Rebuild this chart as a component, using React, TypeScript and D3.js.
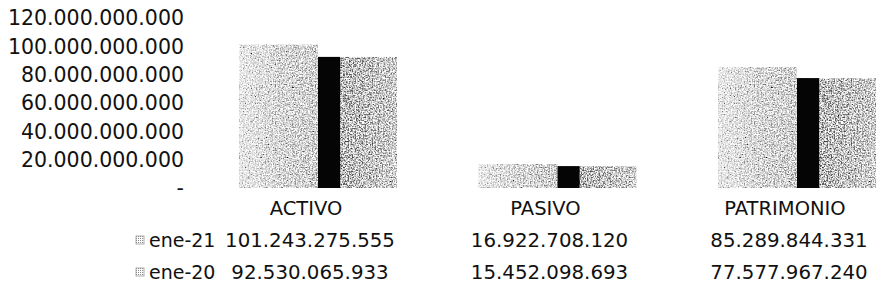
import React from 'react';
import * as d3 from 'd3';

const categories = ['ACTIVO', 'PASIVO', 'PATRIMONIO'];
const seriesNames = ['ene-21', 'ene-20'];
const ene21 = [101243275555, 16922708120, 85289844331];
const ene20 = [92530065933, 15452098693, 77577967240];
const yTicks = [0, 20e9, 40e9, 60e9, 80e9, 100e9, 120e9];

const W = 881;
const H = 296;
const FONT = '"DejaVu Sans", sans-serif';

const locale = d3.formatLocale({ decimal: ',', thousands: '.', grouping: [3], currency: ['', ''] });
const fmt = (v: number) => (v === 0 ? '-' : locale.format(',d')(v));

const App = () => {
  const y = d3.scaleLinear().domain([0, 120e9]).range([188, 18]);
  const x = d3.scalePoint<string>().domain(categories).range([318, 797]);
  const x1 = d3.scaleBand<string>().domain(seriesNames).range([-79, 79]).padding(0);
  const values = [ene21, ene20];
  const rowY = d3.scalePoint<string>().domain(['cat', ...seriesNames]).range([208, 272]);
  const stripW = x1.bandwidth() * 0.28;

  return (
    <svg width={W} height={H} style={{ position: 'absolute', left: 0, top: 0, background: '#fff' }} fontFamily={FONT}>
      <defs>
        <linearGradient id="g21" x1="0" x2="1" y1="0" y2="0">
          <stop offset="0" stopColor="#d0d0d0" />
          <stop offset="0.5" stopColor="#aeaeae" />
          <stop offset="1" stopColor="#9c9c9c" />
        </linearGradient>
        <linearGradient id="g20" x1="0" x2="1" y1="0" y2="0">
          <stop offset="0" stopColor="#4a4a4a" />
          <stop offset="0.5" stopColor="#707070" />
          <stop offset="1" stopColor="#959595" />
        </linearGradient>
        <filter id="grain" x="0" y="0" width="1" height="1">
          <feTurbulence type="fractalNoise" baseFrequency="0.7" numOctaves="2" seed="3" result="noise" />
          <feColorMatrix in="noise" type="matrix"
            values="0.33 0.33 0.33 0 0  0.33 0.33 0.33 0 0  0.33 0.33 0.33 0 0  0 0 0 0 1" result="gray" />
          <feComponentTransfer in="gray" result="contrast">
            <feFuncR type="linear" slope="3" intercept="-0.75" />
            <feFuncG type="linear" slope="3" intercept="-0.75" />
            <feFuncB type="linear" slope="3" intercept="-0.75" />
          </feComponentTransfer>
          <feBlend in="SourceGraphic" in2="contrast" mode="overlay" result="blend" />
          <feComposite in="blend" in2="SourceGraphic" operator="in" />
        </filter>
        <pattern id="legendPat" width="2" height="2" patternUnits="userSpaceOnUse">
          <rect width="2" height="2" fill="#fff" />
          <rect width="1" height="1" fill="#888" />
        </pattern>
      </defs>

      {/* y axis labels */}
      {yTicks.map((t) => (
        <text key={t} x={184} y={y(t)} dy="0.35em" textAnchor="end" fontSize={20.5} fill="#111">
          {fmt(t)}
        </text>
      ))}

      {/* bars */}
      {categories.map((c, i) => (
        <g key={c} transform={`translate(${x(c)},0)`}>
          {seriesNames.map((s, j) => (
            <rect
              key={s}
              x={x1(s)}
              y={y(values[j][i])}
              width={x1.bandwidth()}
              height={y(0) - y(values[j][i])}
              fill={j === 0 ? 'url(#g21)' : 'url(#g20)'}
              filter="url(#grain)"
            />
          ))}
          <rect
            x={x1('ene-20')}
            y={y(ene20[i])}
            width={stripW}
            height={y(0) - y(ene20[i])}
            fill="#050505"
          />
        </g>
      ))}

      {/* data table */}
      {categories.map((c) => (
        <text key={c} x={x(c)! - 12} y={rowY('cat')} dy="0.35em" textAnchor="middle" fontSize={19.5} fill="#111">
          {c}
        </text>
      ))}
      {seriesNames.map((s, j) => (
        <g key={s}>
          <rect x={136} y={rowY(s)! - 4} width={8} height={8} fill="url(#legendPat)" stroke="#999" strokeWidth={0.8} />
          <text x={149} y={rowY(s)} dy="0.35em" fontSize={19} fill="#111">
            {s}
          </text>
          {categories.map((c, i) => (
            <text key={c} x={x(c)! - 8} y={rowY(s)} dy="0.35em" textAnchor="middle" fontSize={19.8} fill="#111">
              {fmt(values[j][i])}
            </text>
          ))}
        </g>
      ))}
    </svg>
  );
};

export default App;
